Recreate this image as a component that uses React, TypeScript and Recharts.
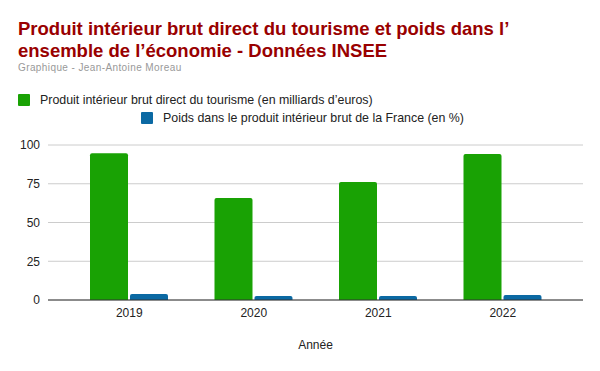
import React from 'react';
import { BarChart, Bar, XAxis, YAxis, CartesianGrid } from 'recharts';

const years = ['2019', '2020', '2021', '2022'];
const pibTourisme = [94.7, 65.8, 76.1, 94.2];
const poidsPib = [3.9, 2.6, 2.6, 3.3];
const yTicks = [0, 25, 50, 75, 100];

const GREEN = '#19a204';
const BLUE = '#0b69a3';
const FONT = '"Liberation Sans", Arial, sans-serif';

const data = years.map((annee, i) => ({
  annee,
  pib: pibTourisme[i],
  poids: poidsPib[i],
}));

const LegendItem: React.FC<{ color: string; label: string; left: number; top: number }> = ({ color, label, left, top }) => (
  <div style={{ position: 'absolute', left, top, display: 'flex', alignItems: 'center', fontSize: 12.4, color: '#222', whiteSpace: 'nowrap' }}>
    <span style={{ width: 12, height: 12, background: color, borderRadius: 1, marginRight: 10, display: 'inline-block' }} />
    <span>{label}</span>
  </div>
);

export default function App() {
  return (
    <div style={{ position: 'absolute', left: 0, top: 0, width: 600, height: 371, background: '#fff', fontFamily: FONT, overflow: 'hidden' }}>
      <div style={{ position: 'absolute', left: 18, top: 18, fontSize: 18.5, fontWeight: 'bold', color: '#990000', lineHeight: '22px', whiteSpace: 'nowrap' }}>
        Produit intérieur brut direct du tourisme et poids dans l’
        <br />
        ensemble de l’économie - Données INSEE
      </div>
      <div style={{ position: 'absolute', left: 18, top: 62, fontSize: 10, color: '#999', letterSpacing: 0.4 }}>
        Graphique - Jean-Antoine Moreau
      </div>
      <LegendItem color={GREEN} label="Produit intérieur brut direct du tourisme (en milliards d’euros)" left={18} top={93} />
      <LegendItem color={BLUE} label="Poids dans le produit intérieur brut de la France (en %)" left={141} top={111} />
      <div style={{ position: 'absolute', left: 0, top: 0 }}>
        <BarChart
          width={600}
          height={371}
          data={data}
          margin={{ top: 145, right: 17, bottom: 21, left: 0 }}
          barCategoryGap={23}
          barGap={2}
        >
          <CartesianGrid vertical={false} stroke="#cccccc" />
          <XAxis
            dataKey="annee"
            tickLine={false}
            axisLine={{ stroke: '#333' }}
            padding={{ left: 19, right: 18 }}
            tick={{ fill: '#222', fontSize: 12, fontFamily: FONT }}
            height={50}
            label={{ value: 'Année', position: 'insideBottom', offset: 1, fill: '#222', fontSize: 12, fontFamily: FONT }}
          />
          <YAxis
            width={48}
            domain={[0, 100]}
            ticks={yTicks}
            tickLine={false}
            axisLine={false}
            tick={{ fill: '#222', fontSize: 12, fontFamily: FONT }}
          />
          <Bar dataKey="pib" fill={GREEN} radius={[2, 2, 0, 0]} isAnimationActive={false} />
          <Bar dataKey="poids" fill={BLUE} radius={[2, 2, 0, 0]} isAnimationActive={false} />
        </BarChart>
      </div>
    </div>
  );
}
